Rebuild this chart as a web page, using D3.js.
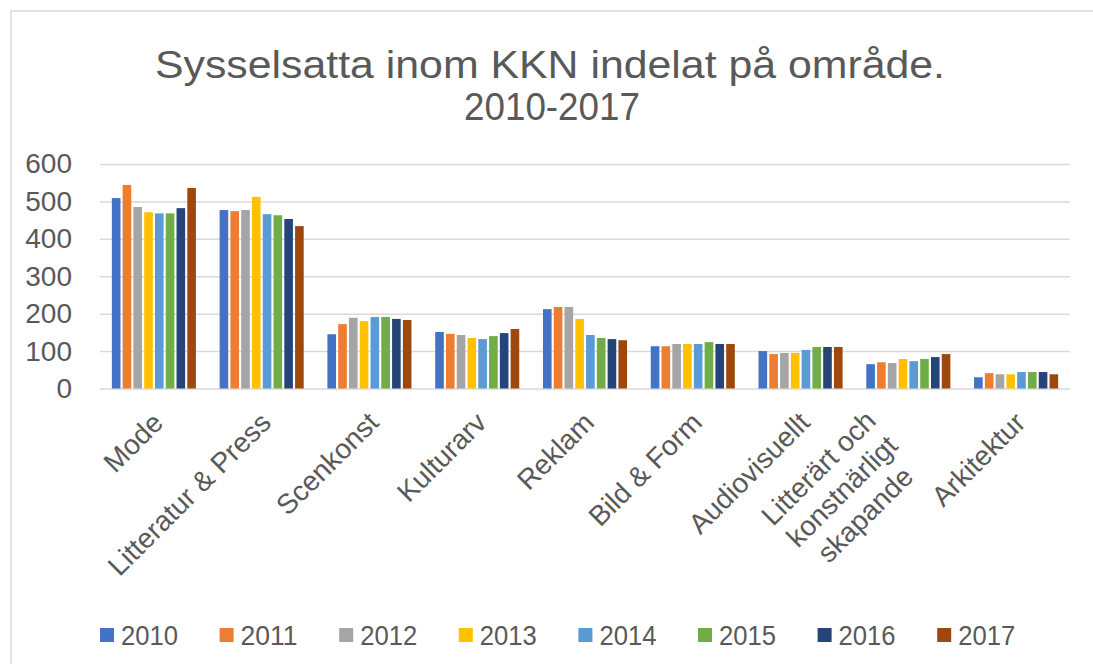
<!DOCTYPE html>
<html>
<head>
<meta charset="utf-8">
<script src="https://cdn.jsdelivr.net/npm/d3@7"></script>
<style>
  body { margin: 0; background: #fff; }
  svg text { font-family: "Liberation Sans", Arial, sans-serif; fill: #595959; }
</style>
</head>
<body>
<svg id="chart" width="1093" height="664"></svg>
<script>
// categories and yearly values
var categories = ["Mode", "Litteratur & Press", "Scenkonst", "Kulturarv", "Reklam",
    "Bild & Form", "Audiovisuellt", "Litterärt och\nkonstnärligt\nskapande", "Arkitektur"];
var years = ["2010", "2011", "2012", "2013", "2014", "2015", "2016", "2017"];
var colors = ["#4472c4", "#ed7d31", "#a5a5a5", "#ffc000", "#5b9bd5", "#70ad47", "#264478", "#9e480e"];

var v2010 = [509, 477, 145, 151, 212, 113, 100, 65, 30];
var v2011 = [544, 474, 172, 146, 218, 113, 92, 70, 41];
var v2012 = [485, 477, 189, 143, 218, 119, 95, 68, 38];
var v2013 = [471, 512, 180, 135, 186, 119, 95, 79, 38];
var v2014 = [468, 466, 191, 132, 143, 119, 103, 73, 44];
var v2015 = [468, 463, 191, 140, 135, 124, 111, 79, 44];
var v2016 = [482, 453, 186, 148, 132, 119, 111, 84, 44];
var v2017 = [536, 434, 183, 159, 129, 119, 111, 92, 38];
var series = [v2010, v2011, v2012, v2013, v2014, v2015, v2016, v2017];
var yTicks = [0, 100, 200, 300, 400, 500, 600];

var svg = d3.select("#chart");
var margin = { top: 164, right: 23, bottom: 275.5, left: 100 };
var width = 1093 - margin.left - margin.right;
var height = 664 - margin.top - margin.bottom;

// outer frame
svg.append("rect")
    .attr("x", 11).attr("y", 11)
    .attr("width", 1100).attr("height", 700)
    .attr("fill", "none")
    .attr("stroke", "#d9d9d9")
    .attr("stroke-width", 1.5);

// title
var title = svg.append("text")
    .attr("text-anchor", "middle")
    .style("font-size", "38px");
title.append("tspan").attr("x", 550).attr("y", 78)
    .attr("textLength", 790).attr("lengthAdjust", "spacingAndGlyphs")
    .text("Sysselsatta inom KKN indelat på område.");
title.append("tspan").attr("x", 552).attr("y", 120)
    .attr("textLength", 176).attr("lengthAdjust", "spacingAndGlyphs")
    .text("2010-2017");

var g = svg.append("g")
    .attr("transform", "translate(" + margin.left + "," + margin.top + ")");

var x0 = d3.scaleBand().domain(categories).range([0, width]).paddingInner(0.18).paddingOuter(0.09);
var x1 = d3.scaleBand().domain(years).range([0, x0.bandwidth()]).padding(0.2);
var y = d3.scaleLinear().domain([0, 600]).range([height, 0]);

// gridlines
g.append("g")
    .call(d3.axisLeft(y).tickValues(yTicks).tickSize(-width).tickFormat(""))
    .call(function(a) { a.select(".domain").remove(); })
    .selectAll("line")
    .attr("stroke", "#d9d9d9")
    .attr("stroke-width", 1.5);

// y labels
var yAxis = g.append("g")
    .call(d3.axisLeft(y).tickValues(yTicks).tickSize(0).tickPadding(28));
yAxis.select(".domain").remove();
yAxis.selectAll("text")
    .style("font-size", "28px")
    .attr("fill", "#595959");

// bars
var groups = g.selectAll(".cat")
    .data(categories)
    .enter().append("g")
    .attr("transform", function(d) { return "translate(" + x0(d) + ",0)"; });

groups.selectAll("rect")
    .data(function(d, i) { return series.map(function(s, k) { return { year: years[k], value: s[i], k: k }; }); })
    .enter().append("rect")
    .attr("x", function(d) { return x1(d.year); })
    .attr("y", function(d) { return y(d.value); })
    .attr("width", x1.bandwidth())
    .attr("height", function(d) { return height - y(d.value); })
    .attr("fill", function(d) { return colors[d.k]; });

// x labels, rotated
var lineH = 33;
g.selectAll(".xlabel")
    .data(categories)
    .enter().append("text")
    .attr("class", "xlabel")
    .style("font-size", "28px")
    .attr("transform", function(d) {
        return "translate(" + (x0(d) + x0.bandwidth() / 2 - 3) + "," + (height + 22) + ") rotate(-45)";
    })
    .each(function(d) {
        var lines = d.split("\n");
        var t = d3.select(this);
        if (lines.length == 1) {
            t.attr("text-anchor", "end").attr("dy", "0.7em").text(d);
        } else {
            t.attr("text-anchor", "middle");
            lines.forEach(function(l, i) {
                t.append("tspan").attr("x", -102).attr("y", (i - 1) * lineH + 12).attr("dy", "0.35em").text(l);
            });
        }
    });

// legend
var legend = svg.append("g").attr("transform", "translate(100,628)");
var item = legend.selectAll("g")
    .data(years)
    .enter().append("g")
    .attr("transform", function(d, i) { return "translate(" + (i * 119.6) + ",0)"; });
item.append("rect")
    .attr("width", 14).attr("height", 14)
    .attr("fill", function(d, i) { return colors[i]; });
item.append("text")
    .attr("x", 21).attr("y", 7).attr("dy", "0.36em")
    .attr("textLength", 57).attr("lengthAdjust", "spacingAndGlyphs")
    .style("font-size", "28px")
    .text(function(d) { return d; });
</script>
</body>
</html>
